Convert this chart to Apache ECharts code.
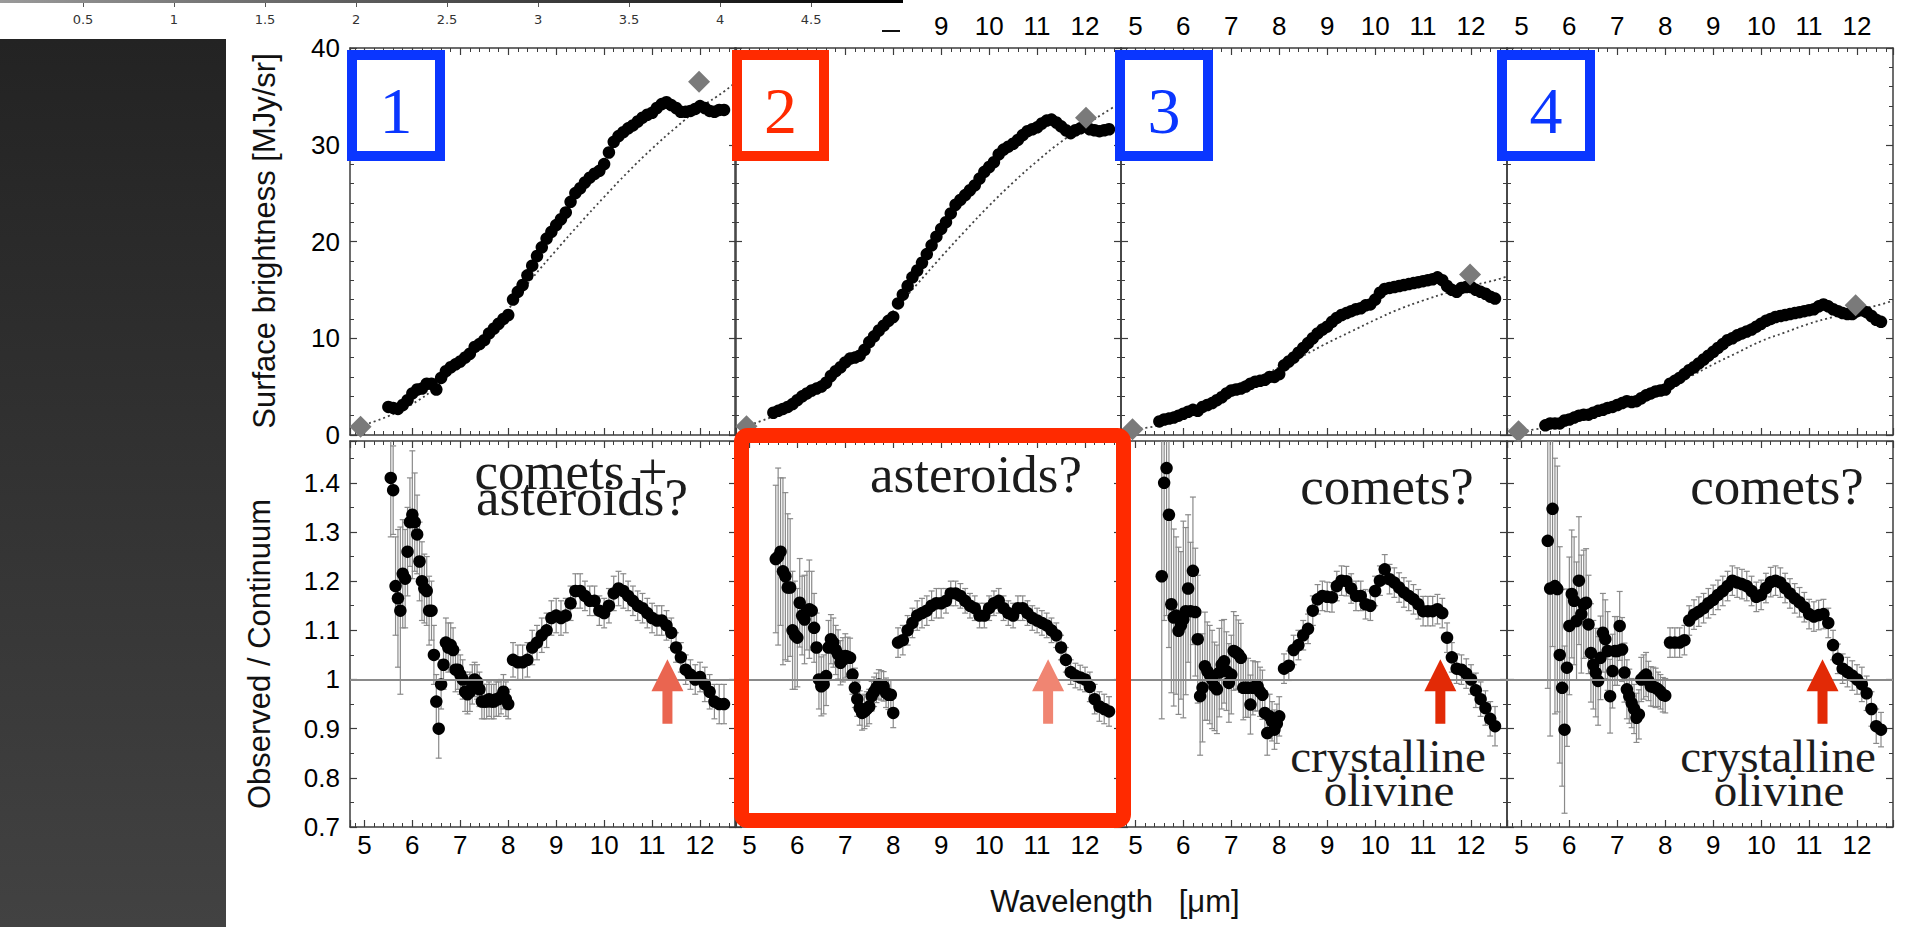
<!DOCTYPE html>
<html>
<head>
<meta charset="utf-8">
<script src="https://cdn.jsdelivr.net/npm/echarts@6/dist/echarts.min.js"></script>
<style>
  html, body { margin: 0; padding: 0; background: #fff; }
  #chart { width: 1910px; height: 927px; }
</style>
</head>
<body>
<div id="chart"></div>
<script>
// ---------- spectra: surface brightness (upper row) ----------
const wlTop = [5.5,5.6,5.7,5.8,5.9,6.0,6.1,6.2,6.3,6.4,
  6.5,6.6,6.7,6.8,6.9,7.0,7.1,7.2,7.3,7.4,
  7.5,7.6,7.7,7.8,7.9,8.0,8.1,8.2,8.3,8.4,
  8.5,8.6,8.7,8.8,8.9,9.0,9.1,9.2,9.3,9.4,
  9.5,9.6,9.7,9.8,9.9,10.0,10.1,10.2,10.3,10.4,
  10.5,10.6,10.7,10.8,10.9,11.0,11.1,11.2,11.3,11.4,
  11.5,11.6,11.7,11.8,11.9,12.0,12.1,12.2,12.3,12.4,12.5];

const sbRegion1 = [2.9,2.8,2.7,3.1,3.6,4.3,4.7,4.8,5.3,5.3,
  4.7,5.9,6.6,7.0,7.3,7.6,8.0,8.4,9.1,9.4,
  9.8,10.5,11.0,11.5,12.0,12.4,14.0,14.8,15.5,16.5,
  17.5,18.5,19.4,20.3,21.0,21.7,22.3,23.0,24.1,25.0,
  25.5,26.1,26.6,27.0,27.3,28.0,29.2,30.3,30.9,31.3,
  31.7,32.0,32.4,32.8,33.1,33.3,33.8,34.2,34.4,34.1,
  33.8,33.4,33.4,33.5,33.7,34.0,33.8,33.5,33.4,33.6,33.6];
const sbRegion2 = [2.3,2.5,2.7,2.9,3.2,3.6,4.0,4.3,4.6,4.8,
  5.0,5.4,6.1,6.6,7.0,7.5,7.9,8.0,8.2,8.8,
  9.6,10.2,10.8,11.3,11.8,12.2,13.6,14.5,15.4,16.3,
  17.0,17.8,18.7,19.6,20.5,21.3,22.0,22.9,23.8,24.3,
  24.8,25.3,25.8,26.5,27.2,27.7,28.2,29.0,29.5,29.8,
  30.1,30.5,31.0,31.4,31.6,31.8,32.2,32.5,32.6,32.3,
  31.9,31.5,31.2,31.5,31.7,31.9,31.6,31.5,31.4,31.5,31.6];
const sbRegion3 = [1.4,1.6,1.7,1.8,2.0,2.2,2.4,2.6,2.5,2.9,
  3.1,3.3,3.6,3.9,4.3,4.6,4.7,4.8,5.0,5.3,
  5.5,5.6,5.7,6.0,6.0,6.3,7.2,7.6,8.0,8.5,
  9.0,9.5,10.0,10.5,10.9,11.2,11.7,12.1,12.4,12.6,
  12.8,13.0,13.1,13.4,13.5,14.0,14.7,15.1,15.2,15.3,
  15.4,15.5,15.6,15.7,15.8,15.9,16.0,16.1,16.3,16.0,
  15.4,15.0,14.8,15.2,15.3,15.3,15.0,14.8,14.6,14.3,14.1];
const sbRegion4 = [1.0,1.2,1.2,1.2,1.5,1.6,1.8,2.0,2.1,2.1,
  2.3,2.5,2.6,2.8,2.9,3.1,3.3,3.5,3.4,3.5,
  3.8,4.1,4.3,4.5,4.6,4.7,5.3,5.6,5.9,6.3,
  6.7,7.0,7.4,7.8,8.2,8.6,9.0,9.4,9.8,10.0,
  10.3,10.5,10.7,10.9,11.2,11.5,11.8,12.0,12.2,12.3,
  12.4,12.5,12.6,12.7,12.8,12.9,13.0,13.3,13.5,13.3,
  13.0,12.8,12.6,12.5,12.5,12.8,12.9,12.7,12.3,11.9,11.7];

// continuum fits (dotted curves)
const wlCont = [4.9,5.5,6.0,6.5,7.0,7.5,8.0,8.5,9.0,9.5,10.0,10.5,11.0,11.5,12.0,12.5,12.75];
const contRegion1 = [0.9,1.95,3.2,5.0,7.5,10.2,13.0,16.2,19.1,21.9,24.6,27.2,29.6,31.8,33.8,35.5,36.5];
const contRegion2 = [0.9,1.95,3.3,5.1,7.2,10.0,12.8,15.6,18.4,21.1,23.7,26.1,28.3,30.3,32.0,33.6,34.4];
const contRegion3 = [0.6,1.0,1.95,3.05,4.5,5.7,7.0,8.2,9.5,10.7,11.9,13.0,13.9,14.7,15.4,16.0,16.4];
const contRegion4 = [0.4,0.75,1.4,2.1,2.9,3.9,4.9,6.0,7.3,8.5,9.7,10.6,11.5,12.2,12.9,13.5,13.9];

// photometric points (grey diamonds): [wavelength, brightness]
const photRegion1 = [[4.92, 0.85], [11.98, 36.5]];
const photRegion2 = [[4.94, 0.9], [12.02, 32.8]];
const photRegion3 = [[4.94, 0.6], [11.98, 16.6]];
const photRegion4 = [[4.94, 0.4], [11.97, 13.4]];

// ---------- observed / continuum (lower row) ----------
const wlRatio = [5.55,5.60,5.65,5.70,5.75,5.80,5.85,5.90,5.95,6.00,
  6.05,6.10,6.15,6.20,6.25,6.30,6.35,6.40,6.45,6.50,
  6.55,6.60,6.65,6.70,6.75,6.80,6.85,6.90,6.95,7.00,
  7.05,7.10,7.15,7.20,7.25,7.30,7.35,7.40,7.45,7.50,
  7.55,7.60,7.65,7.70,7.75,7.80,7.85,7.90,7.95,8.00,
  8.1,8.2,8.3,8.4,8.5,8.6,8.7,8.8,8.9,9.0,
  9.1,9.2,9.3,9.4,9.5,9.6,9.7,9.8,9.9,10.0,
  10.1,10.2,10.3,10.4,10.5,10.6,10.7,10.8,10.9,11.0,
  11.1,11.2,11.3,11.4,11.5,11.6,11.7,11.8,11.9,12.0,
  12.1,12.2,12.3,12.4,12.5];

const ratioRegion1 = [1.41,1.385,1.19,1.165,1.14,1.215,1.205,1.26,1.32,1.335,
  1.32,1.295,1.24,1.20,1.185,1.18,1.14,1.14,1.05,0.955,
  0.90,0.99,1.03,1.075,1.065,1.07,1.06,1.02,1.02,1.01,
  1.00,0.975,0.97,0.975,0.99,1.00,0.995,0.98,0.955,0.955,
  0.955,0.96,0.955,0.955,0.96,0.96,0.965,0.975,0.96,0.95,
  1.04,1.035,1.035,1.04,1.065,1.075,1.09,1.10,1.125,1.13,
  1.125,1.13,1.155,1.18,1.18,1.17,1.16,1.16,1.14,1.135,
  1.15,1.175,1.185,1.18,1.17,1.16,1.15,1.145,1.135,1.125,
  1.12,1.12,1.11,1.095,1.065,1.045,1.02,1.01,1.00,1.005,
  0.99,0.975,0.955,0.95,0.95];
const errRegion1 = [0.12,0.09,0.10,0.14,0.17,0.11,0.10,0.09,0.09,0.13,
  0.10,0.08,0.08,0.08,0.07,0.07,0.07,0.06,0.06,0.055,
  0.06,0.05,0.05,0.05,0.05,0.045,0.045,0.045,0.04,0.04,
  0.04,0.04,0.04,0.04,0.04,0.035,0.035,0.035,0.035,0.035,
  0.035,0.035,0.035,0.035,0.035,0.035,0.035,0.035,0.035,0.03,
  0.035,0.035,0.035,0.035,0.035,0.035,0.035,0.035,0.035,0.035,
  0.035,0.035,0.035,0.035,0.035,0.03,0.03,0.03,0.03,0.03,
  0.035,0.035,0.035,0.035,0.03,0.03,0.03,0.03,0.03,0.03,
  0.03,0.03,0.03,0.03,0.03,0.03,0.03,0.03,0.03,0.03,
  0.035,0.035,0.035,0.04,0.04];

const ratioRegion2 = [1.245,1.25,1.26,1.22,1.21,1.187,1.187,1.10,1.09,1.085,
  1.156,1.13,1.122,1.14,1.143,1.14,1.105,1.065,1.0,0.986,
  0.99,1.007,1.065,1.082,1.075,1.06,1.051,1.034,1.04,1.048,
  1.046,1.044,1.01,0.983,0.96,0.942,0.932,0.935,0.94,0.945,
  0.966,0.975,0.983,0.99,0.988,0.986,0.973,0.969,0.969,0.932,
  1.075,1.08,1.10,1.115,1.13,1.135,1.14,1.15,1.155,1.155,
  1.16,1.175,1.175,1.17,1.16,1.15,1.145,1.13,1.13,1.145,
  1.155,1.16,1.145,1.135,1.13,1.145,1.145,1.135,1.125,1.12,
  1.115,1.11,1.10,1.09,1.065,1.04,1.015,1.008,1.004,1.0,
  0.985,0.96,0.945,0.94,0.935];
const errRegion2 = [0.15,0.18,0.15,0.19,0.17,0.15,0.14,0.12,0.11,0.10,
  0.09,0.08,0.09,0.08,0.10,0.08,0.07,0.07,0.06,0.06,
  0.06,0.06,0.055,0.05,0.05,0.05,0.05,0.045,0.045,0.045,
  0.04,0.04,0.04,0.04,0.035,0.035,0.035,0.035,0.035,0.035,
  0.03,0.03,0.03,0.03,0.03,0.03,0.03,0.03,0.03,0.03,
  0.03,0.03,0.03,0.03,0.03,0.03,0.03,0.03,0.03,0.03,
  0.025,0.025,0.025,0.025,0.025,0.025,0.025,0.025,0.025,0.025,
  0.025,0.025,0.025,0.025,0.025,0.025,0.025,0.025,0.025,0.025,
  0.025,0.025,0.025,0.025,0.025,0.025,0.025,0.025,0.025,0.025,
  0.03,0.03,0.03,0.03,0.03];

const ratioRegion3 = [1.21,1.40,1.43,1.335,1.153,1.126,1.13,1.099,1.11,1.122,
  1.139,1.185,1.139,1.221,1.137,1.082,0.966,0.983,1.027,1.017,
  1.01,1.0,0.986,0.98,1.014,1.03,1.037,1.017,0.993,1.01,
  1.058,1.055,1.051,1.044,0.983,0.983,0.983,0.949,0.983,0.986,
  0.986,0.975,0.969,0.932,0.891,0.925,0.915,0.898,0.91,0.925,
  1.022,1.028,1.06,1.07,1.09,1.103,1.14,1.163,1.17,1.168,
  1.167,1.19,1.201,1.2,1.185,1.17,1.17,1.153,1.15,1.18,
  1.201,1.224,1.204,1.197,1.187,1.177,1.17,1.163,1.153,1.139,
  1.139,1.139,1.143,1.135,1.085,1.045,1.022,1.02,1.012,1.0,
  0.978,0.96,0.942,0.92,0.905];
const errRegion3 = [0.29,0.28,0.30,0.27,0.18,0.18,0.16,0.17,0.15,0.20,
  0.17,0.15,0.14,0.15,0.13,0.13,0.12,0.11,0.11,0.10,
  0.10,0.10,0.09,0.09,0.09,0.09,0.085,0.08,0.08,0.08,
  0.08,0.075,0.07,0.07,0.065,0.06,0.06,0.06,0.055,0.05,
  0.05,0.05,0.05,0.045,0.045,0.045,0.04,0.04,0.04,0.04,
  0.03,0.03,0.03,0.03,0.03,0.03,0.03,0.03,0.03,0.03,
  0.03,0.03,0.03,0.03,0.03,0.03,0.03,0.03,0.03,0.03,
  0.03,0.03,0.03,0.03,0.03,0.03,0.03,0.03,0.03,0.03,
  0.03,0.03,0.03,0.03,0.03,0.03,0.03,0.03,0.03,0.03,
  0.035,0.035,0.035,0.035,0.04];

const ratioRegion4 = [1.282,1.185,1.347,1.19,1.184,1.05,0.983,0.898,1.024,1.109,
  1.174,1.16,1.119,1.201,1.133,1.153,1.156,1.112,1.054,1.03,
  1.014,0.997,1.044,1.095,1.082,1.058,0.966,1.017,1.058,1.058,
  1.109,1.061,1.014,0.98,0.966,0.952,0.94,0.922,0.929,1.0,
  1.005,1.01,0.997,0.986,0.985,0.983,0.98,0.975,0.969,0.967,
  1.075,1.075,1.075,1.08,1.12,1.132,1.138,1.145,1.155,1.162,
  1.172,1.18,1.19,1.201,1.197,1.194,1.19,1.18,1.168,1.172,
  1.186,1.198,1.201,1.197,1.186,1.175,1.165,1.157,1.147,1.133,
  1.128,1.131,1.133,1.115,1.07,1.042,1.022,1.015,1.008,1.0,
  0.99,0.972,0.94,0.905,0.898];
const errRegion4 = [0.30,0.30,0.28,0.26,0.25,0.22,0.20,0.17,0.16,0.14,
  0.13,0.13,0.12,0.13,0.12,0.11,0.11,0.10,0.10,0.09,
  0.09,0.09,0.085,0.08,0.08,0.08,0.075,0.075,0.07,0.07,
  0.07,0.065,0.06,0.06,0.055,0.05,0.05,0.05,0.05,0.045,
  0.045,0.045,0.04,0.04,0.04,0.04,0.035,0.035,0.035,0.035,
  0.03,0.03,0.03,0.03,0.03,0.03,0.03,0.03,0.03,0.03,
  0.03,0.03,0.03,0.03,0.03,0.03,0.03,0.03,0.03,0.03,
  0.03,0.03,0.03,0.03,0.03,0.03,0.03,0.03,0.03,0.03,
  0.03,0.03,0.03,0.03,0.03,0.03,0.03,0.03,0.03,0.03,
  0.035,0.035,0.035,0.035,0.035];

// 11.3 micron crystalline olivine feature markers: wavelength, arrow base, arrow tip
const olivineWl = [11.32, 11.23, 11.36, 11.28];
const arrowBase = 0.91;
const arrowTip = 1.041;

// axis ticks
const wlTicks = [5, 6, 7, 8, 9, 10, 11, 12];
const sbTicks = [0, 10, 20, 30, 40];
const ratioTicks = [0.7, 0.8, 0.9, 1, 1.1, 1.2, 1.3, 1.4];
const stripTicks = [0.5, 1, 1.5, 2, 2.5, 3, 3.5, 4, 4.5];

// region labels and interpretations
const regionNames = ['1', '2', '3', '4'];
const regionNotes = [['comets +', 'asteroids?'], ['asteroids?'], ['comets?'], ['comets?']];
const featureNote = ['crystalline', 'olivine'];

// ---------- layout ----------
const LEFTS = [350, 735, 1121, 1507];
const PW = 386;
const TOP_Y = 48, TOP_H = 387;
const BOT_Y = 441, BOT_H = 386;
const AX = '#3c3c3c';
const SANS = 'Liberation Sans';
const BLUE = '#0a36ff';
const RED = '#ff2a00';
const boxColors = [BLUE, RED, BLUE, BLUE];
const arrowColors = ['#ea6550', '#f08572', '#e22a06', '#e22a06'];

const pairs = (xs, ys) => xs.map((x, i) => [x, ys[i]]);
const near = (a, b) => Math.abs(a - b) < 1e-6;
const wlLabel = v => (wlTicks.some(t => near(t, v)) ? String(Math.round(v)) : '');
const sbLabel = v => (sbTicks.some(t => near(t, v)) ? String(Math.round(v)) : '');
const ratioLabel = v => (ratioTicks.some(t => near(t, v)) ? String(Math.round(v * 10) / 10) : '');

const grid = [];
LEFTS.forEach(l => grid.push({ left: l, top: TOP_Y, width: PW, height: TOP_H }));
LEFTS.forEach(l => grid.push({ left: l, top: BOT_Y, width: PW, height: BOT_H }));
grid.push({ left: 0, top: 0, width: 905, height: 2 });

function axisCommon(minorSplit) {
  return {
    axisLine: { show: true, onZero: false, lineStyle: { color: AX, width: 1.5 } },
    axisTick: { show: true, inside: true, length: 7, lineStyle: { color: AX, width: 1.2 } },
    minorTick: { show: true, splitNumber: minorSplit, length: 4, lineStyle: { color: AX, width: 1 } },
    splitLine: { show: false }
  };
}

const xAxis = [], yAxis = [];
for (let g = 0; g < 8; g++) {
  const upper = g < 4;
  // bottom and top wavelength axes
  ['bottom', 'top'].forEach(pos => {
    const showLab = (upper && pos === 'top') || (!upper && pos === 'bottom');
    xAxis.push(Object.assign({
      type: 'value', gridIndex: g, position: pos, min: 4.7, max: 12.75, splitNumber: 8,
      axisLabel: {
        show: showLab, margin: pos === 'top' ? 9 : 5, fontFamily: SANS, fontSize: 26,
        color: '#000', formatter: wlLabel
      }
    }, axisCommon(5)));
  });
  ['left', 'right'].forEach(pos => {
    const showLab = pos === 'left' && (g === 0 || g === 4);
    const ax = upper
      ? { min: 0, max: 40, interval: 10, formatter: sbLabel, minor: 5 }
      : { min: 0.7, max: 1.485, interval: 0.1, formatter: ratioLabel, minor: 2 };
    yAxis.push(Object.assign({
      type: 'value', gridIndex: g, position: pos, min: ax.min, max: ax.max, interval: ax.interval,
      axisLabel: {
        show: showLab, margin: 10, fontFamily: SANS, fontSize: 26, color: '#000', formatter: ax.formatter
      }
    }, axisCommon(ax.minor)));
  });
}
// strip axis along the top of the page
xAxis.push({
  type: 'value', gridIndex: 8, position: 'bottom', min: 0.044, max: 5.016, z: 60,
  axisLine: { show: false },
  axisTick: { show: true, inside: false, length: 5, customValues: stripTicks, lineStyle: { color: '#555', width: 1 } },
  axisLabel: { show: true, margin: 11, fontFamily: 'DejaVu Sans', fontSize: 13, color: '#333', customValues: stripTicks },
  splitLine: { show: false }
});
yAxis.push({ type: 'value', gridIndex: 8, show: false });

const series = [];
const sbData = [sbRegion1, sbRegion2, sbRegion3, sbRegion4];
const contData = [contRegion1, contRegion2, contRegion3, contRegion4];
const photData = [photRegion1, photRegion2, photRegion3, photRegion4];
const ratioData = [ratioRegion1, ratioRegion2, ratioRegion3, ratioRegion4];
const errData = [errRegion1, errRegion2, errRegion3, errRegion4];

function renderErr(params, api) {
  const x = api.value(0);
  const lo = api.coord([x, api.value(1)]);
  const hi = api.coord([x, api.value(2)]);
  const st = { stroke: '#8a8a8a', lineWidth: 1.2 };
  return {
    type: 'group', children: [
      { type: 'line', shape: { x1: lo[0], y1: lo[1], x2: hi[0], y2: hi[1] }, style: st },
      { type: 'line', shape: { x1: lo[0] - 3, y1: lo[1], x2: lo[0] + 3, y2: lo[1] }, style: st },
      { type: 'line', shape: { x1: hi[0] - 3, y1: hi[1], x2: hi[0] + 3, y2: hi[1] }, style: st }
    ]
  };
}

function makeArrowRenderer(color) {
  return function (params, api) {
    const x = api.value(0);
    const base = api.coord([x, api.value(1)]);
    const tip = api.coord([x, api.value(2)]);
    const cx = tip[0], hy = tip[1] + 32;
    return {
      type: 'polygon',
      shape: { points: [[cx, tip[1]], [cx + 16, hy], [cx + 5, hy], [cx + 5, base[1]], [cx - 5, base[1]], [cx - 5, hy], [cx - 16, hy]] },
      style: { fill: color }
    };
  };
}

const dotStyle = { color: '#000', opacity: 1 };

for (let i = 0; i < 4; i++) {
  const tx = 2 * i, ty = 2 * i;
  series.push({
    type: 'line', xAxisIndex: tx, yAxisIndex: ty, data: pairs(wlCont, contData[i]),
    smooth: true, showSymbol: false, silent: true, z: 2,
    lineStyle: { color: '#444', width: 1.8, type: [2, 3] }
  });
  series.push({
    type: 'scatter', xAxisIndex: tx, yAxisIndex: ty, data: pairs(wlTop, sbData[i]),
    symbolSize: 12.5, itemStyle: dotStyle, z: 3, silent: true
  });
  series.push({
    type: 'scatter', xAxisIndex: tx, yAxisIndex: ty, data: photData[i],
    symbol: 'diamond', symbolSize: 22, itemStyle: { color: '#7a7a7a', opacity: 1 }, z: 4, silent: true
  });

  const bx = 2 * (4 + i), by = 2 * (4 + i);
  const v = ratioData[i], e = errData[i];
  series.push({
    type: 'custom', xAxisIndex: bx, yAxisIndex: by, clip: true, silent: true, z: 2,
    data: wlRatio.map((w, k) => [w, v[k] - e[k], v[k] + e[k]]),
    encode: { x: 0, y: [1, 2] },
    renderItem: renderErr,
    markLine: {
      silent: true, symbol: 'none', label: { show: false },
      lineStyle: { color: '#8a8a8a', width: 2, type: 'solid' },
      data: [{ yAxis: 1 }]
    }
  });
  series.push({
    type: 'scatter', xAxisIndex: bx, yAxisIndex: by, data: pairs(wlRatio, v),
    symbolSize: 12.5, itemStyle: dotStyle, z: 3, silent: true
  });
  series.push({
    type: 'custom', xAxisIndex: bx, yAxisIndex: by, silent: true, z: 5,
    data: [[olivineWl[i], arrowBase, arrowTip]],
    encode: { x: 0, y: [1, 2] },
    renderItem: makeArrowRenderer(arrowColors[i])
  });
}

// ---------- decorations ----------
const graphic = [];
// page strip and dark side panel
graphic.push({ type: 'rect', z: 50, shape: { x: 0, y: 0, width: 905, height: 39 }, style: { fill: '#fff' } });
graphic.push({
  type: 'rect', z: 61, shape: { x: 0, y: 0, width: 903, height: 3 },
  style: { fill: new echarts.graphic.LinearGradient(0, 0, 1, 0, [{ offset: 0, color: '#9a9a9a' }, { offset: 1, color: '#000' }]) }
});
graphic.push({ type: 'rect', z: 61, shape: { x: 882, y: 30, width: 18, height: 2 }, style: { fill: '#111' } });
graphic.push({
  type: 'rect', z: 50, shape: { x: 0, y: 39, width: 226, height: 888 },
  style: { fill: new echarts.graphic.LinearGradient(0, 0, 0, 1, [{ offset: 0, color: '#232323' }, { offset: 1, color: '#424242' }]) }
});

// axis titles
graphic.push({
  type: 'text', z: 10, x: 264, y: 241, rotation: Math.PI / 2,
  style: { text: 'Surface brightness [MJy/sr]', font: '31px "Liberation Sans"', fill: '#111', align: 'center', verticalAlign: 'middle' }
});
graphic.push({
  type: 'text', z: 10, x: 259, y: 654, rotation: Math.PI / 2,
  style: { text: 'Observed / Continuum', font: '31px "Liberation Sans"', fill: '#111', align: 'center', verticalAlign: 'middle' }
});
graphic.push({
  type: 'text', z: 10, x: 1115, y: 901,
  style: { text: 'Wavelength\u00a0\u00a0\u00a0[\u03bcm]', font: '31px "Liberation Sans"', fill: '#111', align: 'center', verticalAlign: 'middle' }
});

// numbered region boxes
const boxLeft = [352, 737, 1120, 1502];
const boxW = [88, 87, 88, 88];
for (let i = 0; i < 4; i++) {
  graphic.push({
    type: 'rect', z: 40, shape: { x: boxLeft[i], y: 55, width: boxW[i], height: 101 },
    style: { fill: '#fff', stroke: boxColors[i], lineWidth: 10 }
  });
  graphic.push({
    type: 'text', z: 41, x: boxLeft[i] + boxW[i] / 2, y: 110,
    style: { text: regionNames[i], font: '66px "Liberation Serif"', fill: boxColors[i], align: 'center', verticalAlign: 'middle' }
  });
}
// highlight frame around the region-2 ratio panel
graphic.push({
  type: 'rect', z: 40, shape: { x: 741.5, y: 435.5, width: 382, height: 385, r: 6 },
  style: { fill: 'none', stroke: RED, lineWidth: 15 }
});

// interpretation notes
function note(text, cx, baseline, size) {
  graphic.push({
    type: 'text', z: 20, x: cx, y: baseline - 0.3 * size,
    style: { text: text, font: size + 'px "Liberation Serif"', fill: '#1c1c1c', align: 'center', verticalAlign: 'middle' }
  });
}
note(regionNotes[0][0], 571, 487, 53);
note(regionNotes[0][1], 582, 513, 53);
note(regionNotes[1][0], 976, 490, 53);
note(regionNotes[2][0], 1387, 502, 53);
note(regionNotes[3][0], 1777, 502, 53);
note(featureNote[0], 1388, 770, 47);
note(featureNote[1], 1389, 804, 47);
note(featureNote[0], 1778, 770, 47);
note(featureNote[1], 1779, 804, 47);

const chart = echarts.init(document.getElementById('chart'), null, { renderer: 'svg', width: 1910, height: 927 });
chart.setOption({
  animation: false,
  backgroundColor: '#fff',
  textStyle: { fontFamily: SANS },
  grid: grid,
  xAxis: xAxis,
  yAxis: yAxis,
  series: series,
  graphic: graphic
});
</script>
</body>
</html>
